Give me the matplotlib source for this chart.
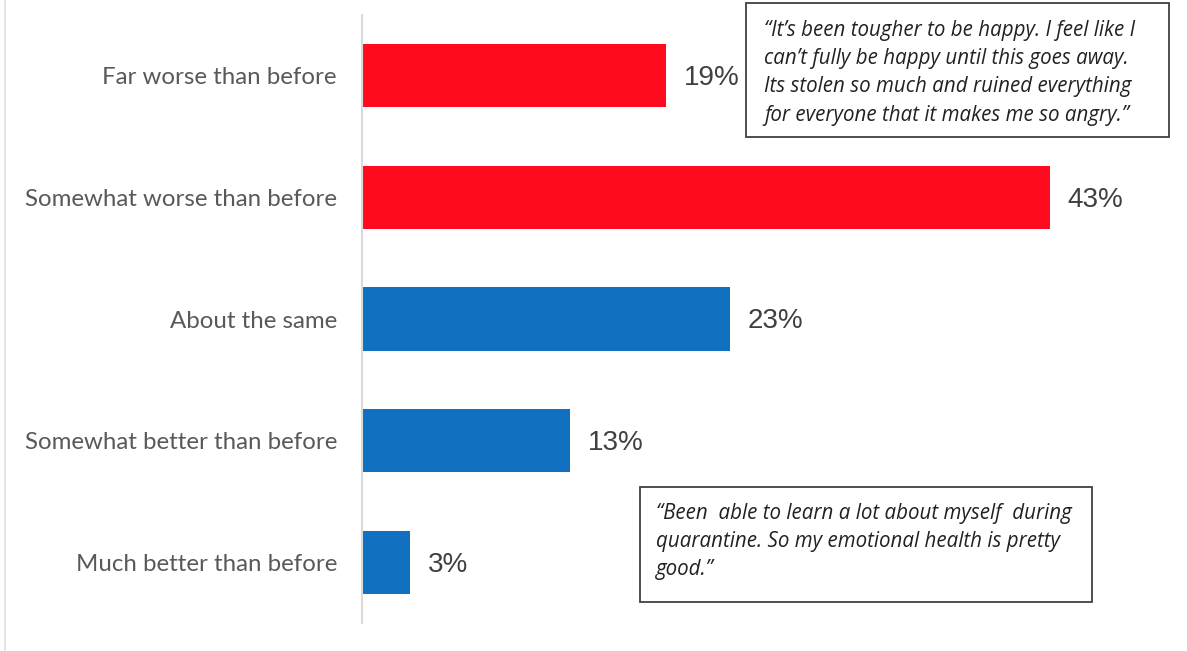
import matplotlib.pyplot as plt
from matplotlib.lines import Line2D

# data
categories = ['Far worse than before', 'Somewhat worse than before', 'About the same',
              'Somewhat better than before', 'Much better than before']
values = [19, 43, 23, 13, 3]
bar_colors = ['#fe0b1f', '#fe0b1f', '#1170bf', '#1170bf', '#1170bf']

quote_top = ('\u201cIt\u2019s been tougher to be happy. I feel like I\n'
             'can\u2019t fully be happy until this goes away.\n'
             'Its stolen so much and ruined everything\n'
             'for everyone that it makes me so angry.\u201d')
quote_bottom = ('\u201cBeen  able to learn a lot about myself  during\n'
                'quarantine. So my emotional health is pretty\n'
                'good.\u201d')

W, H = 1187, 651
fig = plt.figure(figsize=(W / 100, H / 100), dpi=100)
fig.patch.set_facecolor('white')

# axes from x=362 to 1170 px, y=15 to 623 px
ax = fig.add_axes([362 / W, 1 - 623 / H, (1170 - 362) / W, (623 - 15) / H])
ypos = list(range(len(categories)))
ax.barh(ypos, values, height=0.52, color=bar_colors)
ax.set_xlim(0, (1170 - 362) / 16)
ax.set_ylim(4.5, -0.5)

for y, v in zip(ypos, values):
    ax.text(v + 1.1, y + 0.02, f'{v}%', va='center', ha='left', fontsize=20,
            color='#404040', family='Liberation Sans')

ax.set_yticks(ypos)
ax.set_yticklabels(categories, fontsize=17.3, color='#595959', family='Lato')
for lbl in ax.get_yticklabels():
    lbl.set_va('center_baseline')
ax.tick_params(axis='y', length=0, pad=18)
ax.set_xticks([])
for s in ['top', 'right', 'bottom']:
    ax.spines[s].set_visible(False)
ax.spines['left'].set_color('#d9d9d9')
ax.spines['left'].set_linewidth(1.5)

# faint screenshot border on the left
fig.add_artist(Line2D([5 / W, 5 / W], [0, 1], color='#e0e0e0', lw=1.2,
                      transform=fig.transFigure))

# quote boxes
def quote_box(x0, y0, x1, y1, tx, ty, text):
    rect = plt.Rectangle((x0 / W, 1 - y1 / H), (x1 - x0) / W, (y1 - y0) / H,
                         transform=fig.transFigure, facecolor='white',
                         edgecolor='#404040', lw=1.3)
    fig.add_artist(rect)
    fig.text(tx / W, 1 - ty / H, text, ha='left', va='top', fontsize=14.8,
             style='italic', color='#222222', family='Open Sans', linespacing=1.45)

quote_box(746, 3, 1169, 137, 764, 20, quote_top)
quote_box(640, 487, 1092, 602, 656, 503, quote_bottom)

fig.savefig('out.png', dpi=100)
